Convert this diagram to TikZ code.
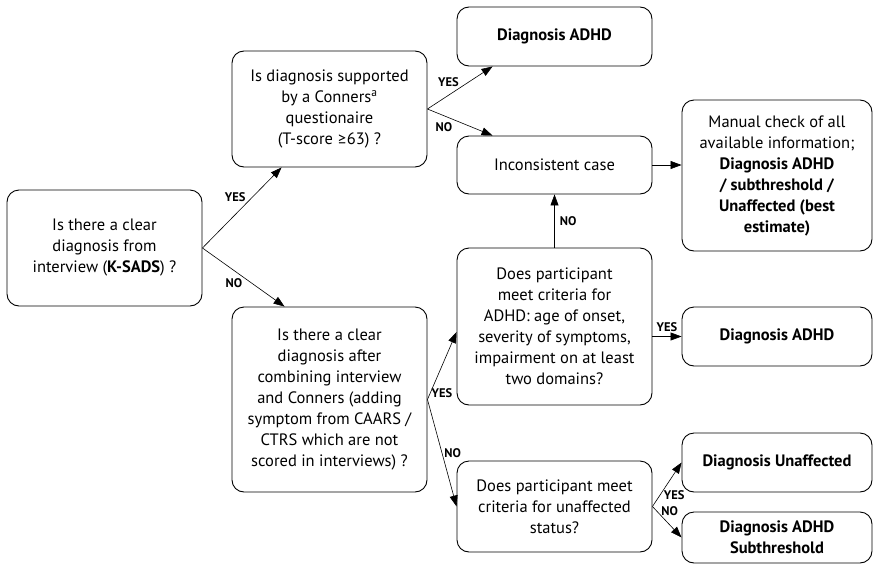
\documentclass[tikz,border=0pt]{standalone}
\usepackage{fontspec}
\setmainfont{PT Sans}
\newfontfamily\geqfont{Lato}
\usetikzlibrary{arrows.meta,calc,positioning}
\tikzset{
  box/.style={draw,rounded corners=12pt,align=center,minimum width=195pt,
    inner sep=2pt,line width=0.9pt,font=\fontsize{16.5}{21}\selectfont},
  endbox/.style={box,minimum width=190pt},
  lbl/.style={font=\bfseries\fontsize{12.5}{14}\selectfont,inner sep=1pt}
}
\tikzstyle{arrow} = [semithick,-{Triangle[length=11pt,width=8pt]}]

\begin{document}
\begin{tikzpicture}[x=1pt,y=-1pt]
  \useasboundingbox (0,0) rectangle (873,565);
  % questions
  \node[box,minimum height=116pt] (interview) at (104.5,248)
    {Is there a clear\\diagnosis from\\interview (\textbf{K-SADS}) ?};
  \node[box,minimum height=116pt] (conners) at (329.5,109)
    {Is diagnosis supported\\by a Conners\textsuperscript{a}\\questionaire\\(T-score {\geqfont ≥}63) ?};
  \node[box,minimum height=185pt] (combined) at (329.5,399.5)
    {Is there a clear\\diagnosis after\\combining interview\\and Conners (adding\\symptom from CAARS /\\CTRS which are not\\scored in interviews) ?};
  \node[box,minimum height=157pt] (criteria) at (554.5,326.5)
    {Does participant\\meet criteria for\\ADHD: age of onset,\\severity of symptoms,\\impairment on at least\\two domains?};
  \node[box,minimum height=91pt] (unaff) at (554.5,506.5)
    {Does participant meet\\criteria for unaffected\\status?};
  \node[box,minimum height=58pt] (incons) at (554.5,165) {Inconsistent case};
  % outcomes
  \node[box,minimum height=59pt] (adhdA) at (554.5,36.5) {\textbf{Diagnosis ADHD}};
  \node[endbox,minimum height=151pt] (manual) at (777,175.5)
    {Manual check of all\\available information;\\\textbf{Diagnosis ADHD}\\\textbf{/ subthreshold /}\\\textbf{Unaffected (best}\\\textbf{estimate)}};
  \node[endbox,minimum height=59pt] (adhdB) at (777,336.5) {\textbf{Diagnosis ADHD}};
  \node[endbox,minimum height=59pt] (unaffD) at (777,462.5) {\textbf{Diagnosis Unaffected}};
  \node[endbox,minimum height=51pt] (subth) at (777,537.5)
    {\textbf{Diagnosis ADHD}\\\textbf{Subthreshold}};

  \draw[arrow] (interview.east) -- ([xshift=50pt]conners.south west)
    node[lbl,pos=0.56,anchor=south east] {YES};
  \draw[arrow] (interview.east) -- ([xshift=53pt]combined.north west)
    node[lbl,pos=0.5,anchor=north east] {NO};
  \draw[arrow] (conners.east) -- ([xshift=36pt]adhdA.south west)
    node[lbl,pos=0.5,anchor=south east] {YES};
  \draw[arrow] (conners.east) -- ([xshift=36pt]incons.north west)
    node[lbl,pos=0.4,anchor=north east,yshift=-2pt] {NO};
  \draw[arrow] (incons.east) -- (incons.east -| manual.west);
  \draw[arrow] (criteria.north) -- (incons.south)
    node[lbl,midway,right,xshift=4pt] {NO};
  \draw[arrow] (combined.east) -- ([yshift=-5.5pt]criteria.west)
    node[lbl,pos=0.1,right] {YES};
  \draw[arrow] (combined.east) -- (unaff.west)
    node[lbl,pos=0.5,right,xshift=1pt] {NO};
  \draw[arrow] (adhdB.west -| criteria.east) -- (adhdB.west)
    node[lbl,midway,above,yshift=4pt] {YES};
  \draw[arrow] (unaff.east) -- (unaffD.west)
    node[lbl,pos=0.35,right,yshift=-4pt] {YES};
  \draw[arrow] (unaff.east) -- (subth.west)
    node[lbl,pos=0.3,above right,inner sep=0pt] {NO};
\end{tikzpicture}
\end{document}
